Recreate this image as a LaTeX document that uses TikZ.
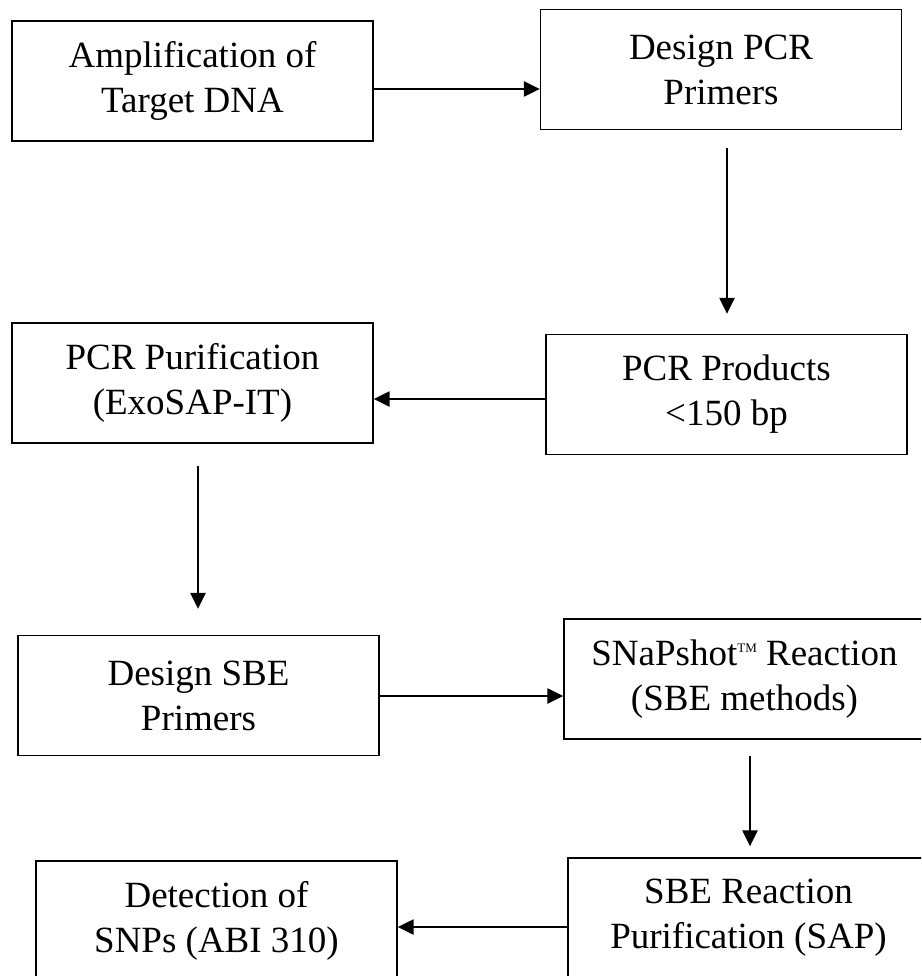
\documentclass[tikz,border=0pt]{standalone}
\usepackage{fontspec}
\setmainfont{Liberation Serif}
\usetikzlibrary{arrows.meta,positioning,calc}

\begin{document}
\begin{tikzpicture}[x=1pt, y=-1pt,
  stepbox/.style={draw, line width=1.3pt, minimum width=361pt, minimum height=120pt, inner sep=0pt, align=center, font=\fontsize{37}{45}\selectfont},
  flowarrow/.style={line width=2.3pt, -{Triangle[length=16pt, width=15pt]}}]
\useasboundingbox (0,0) rectangle (921,976);
\clip (0,0) rectangle (921,976);
\node[stepbox] (amp) at (192.5,81) {Amplification of\\Target DNA};
\node[stepbox] (pcrdesign) at (721,69.5) {Design PCR\\Primers};
\node[stepbox] (purif) at (192.5,383) {PCR Purification\\(ExoSAP-IT)};
\node[stepbox] (products) at (726.5,394.5) {PCR Products\\<150 bp};
\node[stepbox] (sbedesign) at (198.5,695.5) {Design SBE\\Primers};
\node[stepbox] (snapshot) at (744.5,679) {SNaPshot\raisebox{13pt}{\fontsize{13}{13}\selectfont TM} Reaction\\(SBE methods)};
\node[stepbox] (detect) at (216.5,921) {Detection of\\SNPs (ABI 310)};
\node[stepbox] (sbepurif) at (748.5,918) {SBE Reaction\\Purification (SAP)};
\draw[flowarrow] (amp.east |- 0,89) -- (pcrdesign.west |- 0,89);
\draw[flowarrow, shorten <=18pt, shorten >=20pt] (pcrdesign.south -| 727,0) -- (products.north -| 727,0);
\draw[flowarrow] (products.west |- 0,399) -- (purif.east |- 0,399);
\draw[flowarrow, shorten <=22pt, shorten >=26pt] (purif.south -| 198,0) -- (sbedesign.north -| 198,0);
\draw[flowarrow] (sbedesign.east |- 0,696) -- (snapshot.west |- 0,696);
\draw[flowarrow, shorten <=16pt, shorten >=11pt] (snapshot.south -| 750,0) -- (sbepurif.north -| 750,0);
\draw[flowarrow] (sbepurif.west |- 0,927) -- (detect.east |- 0,927);
\end{tikzpicture}
\end{document}
